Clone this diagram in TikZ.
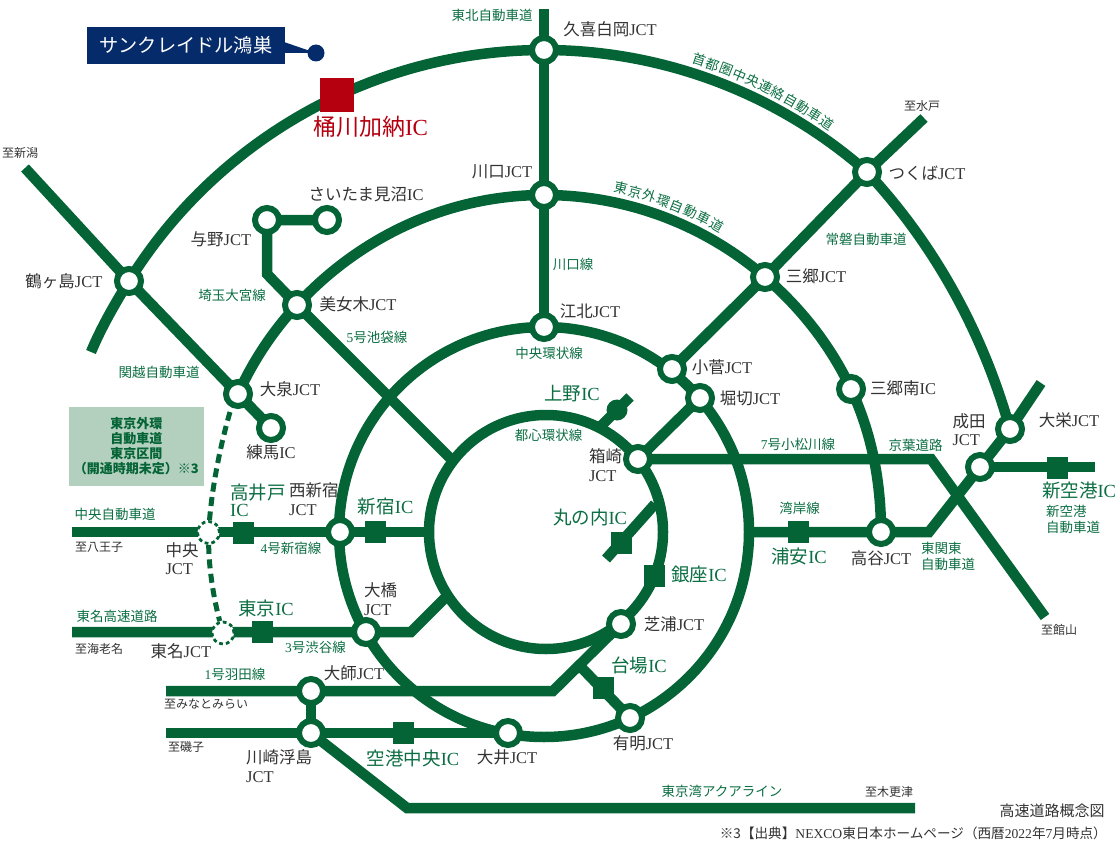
\documentclass[tikz,border=0pt]{standalone}
\usepackage{fontspec}
\setmainfont{Noto Sans CJK JP}
\newfontfamily\latinserif{Liberation Serif}
\usetikzlibrary{calc,decorations.text}
\definecolor{road}{HTML}{056436}
\definecolor{roadtext}{HTML}{0B6E42}
\definecolor{darktext}{HTML}{333333}
\definecolor{navy}{HTML}{062B6B}
\definecolor{redic}{HTML}{B50010}
\definecolor{palegreen}{HTML}{B3D0BF}
\newcommand{\ltn}[1]{{\latinserif #1}}
\newcommand{\JCT}{\ltn{JCT}}
\newcommand{\IC}{\ltn{IC}}
\newcommand{\fsz}[1]{\fontsize{#1}{#1}\selectfont}
\pgfdeclarelayer{bg}
\pgfsetlayers{bg,main}
\tikzset{
  roadline/.style={draw=road,line width=10.5pt,line join=miter},
  plannedline/.style={draw=road,line width=5pt,dash pattern=on 9pt off 5.5pt},
  jct/.style={circle,draw=road,fill=white,line width=6pt,minimum size=24pt,inner sep=0pt},
  ic/.style={rectangle,fill=road,minimum width=21pt,minimum height=21.5pt,inner sep=0pt},
  dashjct/.style={circle,draw=road,fill=white,line width=2.8pt,dash pattern=on 3.8pt off 3pt,minimum size=22pt,inner sep=0pt},
  jlabel/.style={text=darktext,font=\fsz{16.5},inner sep=0pt,align=left},
  iclabel/.style={text=roadtext,font=\fsz{18.5},inner sep=0pt,align=left},
  rlabel/.style={text=roadtext,font=\fsz{13.5},inner sep=0pt,align=left},
  tolabel/.style={text=darktext,font=\fsz{12},inner sep=0pt},
}
\begin{document}
\begin{tikzpicture}[x=1pt,y=-1pt]
\useasboundingbox (0,0) rectangle (1119,848);

% centres of the rings
\coordinate (cring) at (544,532);
\coordinate (cinner) at (546,532);
\coordinate (couter) at (544,538.6);
\coordinate (cgaikan) at (544,533);

% free ends and bends
\coordinate (tohokuend) at (544,9);
\coordinate (niigataend) at (25,168);
\coordinate (outerend) at (91,352);
\coordinate (mitoend) at (924,118);
\coordinate (sakaeend) at (1041,383);
\coordinate (yonobend) at (267,274);
\coordinate (ikebukuroend) at (450,458);
\coordinate (komatsubend) at (931,459);
\coordinate (tateyamaend) at (1045,617);
\coordinate (wanganstart) at (747,532);
\coordinate (wanganbend) at (929,532);
\coordinate (skyend) at (1095,467);
\coordinate (chuoend) at (72,532);
\coordinate (shinjukuend) at (431,532);
\coordinate (tomeiend) at (72,632);
\coordinate (shibuyabend) at (411,632);
\coordinate (shibuyaend) at (446,597);
\coordinate (haneend) at (166,691);
\coordinate (hanebend) at (553,691);
\coordinate (daibabranch) at (579,665);
\coordinate (isogoend) at (166,733);
\coordinate (aquabend) at (407,808);
\coordinate (aquaend) at (915,808);
\coordinate (maruA) at (655,504);
\coordinate (maruB) at (606,559);
\coordinate (uenoA) at (597,430);
\coordinate (uenoB) at (630,397);
\coordinate (dashstart) at (230,412);

% junction nodes
\node[jct] (kuki) at (544,50) {};
\node[jct] (kawaguchi) at (544,195) {};
\node[jct] (kohoku) at (544,327) {};
\node[jct] (tsukuba) at (867,172) {};
\node[jct] (misato) at (765,277) {};
\node[jct] (kosuge) at (672,369) {};
\node[jct] (horikiri) at (700,398) {};
\node[jct] (misatominami) at (851,389) {};
\node[jct] (tsurugashima) at (129,281) {};
\node[jct] (yono) at (267,220) {};
\node[jct] (minuma) at (327,220) {};
\node[jct] (bijogi) at (297,305) {};
\node[jct] (oizumi) at (238,394) {};
\node[jct] (nerima) at (271,428) {};
\node[jct] (hakozaki) at (638,459) {};
\node[jct] (shibaura) at (621,624) {};
\node[jct] (ariake) at (630,718) {};
\node[jct] (oi) at (508,733) {};
\node[jct] (daishi) at (311,691) {};
\node[jct] (ukishima) at (311,733) {};
\node[jct] (koya) at (881,532) {};
\node[jct] (narita) at (980,467) {};
\node[jct] (taiei) at (1010,429) {};
\node[jct] (nishishinjuku) at (340,532) {};
\node[jct] (ohashi) at (366,632) {};
\node[dashjct] (chuojct) at (208.5,532.5) {};
\node[dashjct] (tomeijct) at (223,633) {};

% interchange squares
\node[ic] (takaido) at (243,533) {};
\node[ic] (shinjukuic) at (375,532) {};
\node[ic] (tokyoic) at (262,632) {};
\node[ic] (urayasu) at (798,532) {};
\node[ic] (skyic) at (1057,468) {};
\node[ic] (ginza) at (654,576) {};
\node[ic] (marunouchi) at (621,543) {};
\node[ic] (daiba) at (603,688) {};
\node[ic] (kukochuo) at (403,733) {};
\node[rectangle,fill=redic,minimum width=34pt,minimum height=34pt,inner sep=0pt] (okegawa) at (336.7,95) {};
\node[circle,fill=road,minimum size=21pt,inner sep=0pt] (uenoic) at (617,410) {};

\begin{pgfonlayer}{bg}
% rings
\draw[roadline] (cring) circle[radius=205pt];
\draw[roadline] (cinner) circle[radius=117pt];
% outer ring
\draw[roadline] (outerend) .. controls (100.9,328) and (115.3,303) .. (tsurugashima.center)
  .. controls (217.8,137.9) and (375.6,50) .. (kuki.center)
  .. controls (662.9,50) and (777.8,93.4) .. (tsukuba.center)
  .. controls (935,245) and (983,333) .. (taiei.center);
% gaikan
\draw[roadline] (oizumi.center) .. controls (252.9,361.1) and (272.5,331.5) .. (bijogi.center)
  .. controls (361,235.6) and (449.6,195) .. (kawaguchi.center)
  .. controls (625.1,195) and (703.6,224) .. (misato.center)
  .. controls (801,308.1) and (830.8,345.9) .. (misatominami.center)
  .. controls (872,433.9) and (881,482.4) .. (koya.center);
% radial roads
\draw[roadline] (tohokuend) -- (kuki.center) -- (kawaguchi.center) -- (kohoku.center);
\draw[roadline] (niigataend) -- (tsurugashima.center) -- (oizumi.center) -- (nerima.center);
\draw[roadline] (bijogi.center) -- (ikebukuroend);
\draw[roadline] (minuma.center) -- (yono.center) -- (yonobend) -- (bijogi.center);
\draw[roadline] (mitoend) -- (tsukuba.center) -- (misato.center) -- (kosuge.center);
\draw[roadline] (horikiri.center) -- (hakozaki.center) -- (komatsubend) -- (tateyamaend);
\draw[roadline] (wanganstart) -- (koya.center) -- (wanganbend) -- (narita.center) -- (taiei.center) -- (sakaeend);
\draw[roadline] (narita.center) -- (skyend);
\draw[roadline] (chuoend) -- (shinjukuend);
\draw[roadline] (tomeiend) -- (shibuyabend) -- (shibuyaend);
\draw[roadline] (haneend) -- (hanebend) -- (shibaura.center);
\draw[roadline] (daibabranch) -- (ariake.center);
\draw[roadline] (daishi.center) -- (ukishima.center);
\draw[roadline] (isogoend) -- (oi.center);
\draw[roadline] (ukishima.center) -- (aquabend) -- (aquaend);
\draw[roadline] (maruA) -- (maruB);
\draw[roadline] (uenoA) -- (uenoB);
% planned section
\draw[plannedline] (dashstart) .. controls (219,450) and (212,490) .. (chuojct);
\draw[plannedline] (chuojct) .. controls (209,570) and (214,600) .. (tomeijct);
\end{pgfonlayer}

% property callout
\node[fill=navy,minimum width=197.5pt,minimum height=37pt,inner sep=0pt,text=white,font=\fsz{19.2}] (property) at (185.8,45.5) {サンクレイドル鴻巣};
\node[circle,fill=navy,minimum size=17pt,inner sep=0pt] (propertydot) at (316,53) {};
\fill[navy] (284,42) -- (propertydot.center) -- (284,53) -- cycle;

\node[text=redic,font=\fsz{23},inner sep=0pt] (okegawalabel) at (370.5,127) {桶川加納\IC};

% black labels
\node[jlabel] (l1) at (610,29) {久喜白岡\JCT};
\node[jlabel] (l2) at (502,172) {川口\JCT};
\node[jlabel] (l3) at (366,194) {さいたま見沼\IC};
\node[jlabel] (l4) at (221,239) {与野\JCT};
\node[jlabel] (l5) at (64,281) {鶴ヶ島\JCT};
\node[jlabel] (l6) at (358,304) {美女木\JCT};
\node[jlabel] (l7) at (290,389) {大泉\JCT};
\node[jlabel] (l8) at (590,311) {江北\JCT};
\node[jlabel] (l9) at (927,173) {つくば\JCT};
\node[jlabel] (l10) at (816,276) {三郷\JCT};
\node[jlabel] (l11) at (722,367) {小菅\JCT};
\node[jlabel] (l12) at (750,398) {堀切\JCT};
\node[jlabel] (l13) at (903,388) {三郷南\IC};
\node[jlabel] (l14) at (1069,420) {大栄\JCT};
\node[jlabel] (l15) at (969,429.5) {成田\\[2pt]\JCT};
\node[jlabel] (l16) at (605.5,465) {箱崎\\[2pt]\JCT};
\node[jlabel] (l17) at (881,558) {高谷\JCT};
\node[jlabel] (l18) at (674,624) {芝浦\JCT};
\node[jlabel] (l19) at (643,743) {有明\JCT};
\node[jlabel] (l20) at (507,757) {大井\JCT};
\node[jlabel,anchor=west] (l21) at (246,766) {川崎浮島\\[2pt]\JCT};
\node[jlabel] (l22) at (354,673) {大師\JCT};
\node[jlabel] (l23) at (181,651) {東名\JCT};
\node[jlabel] (l24) at (380.5,599) {大橋\\[2pt]\JCT};
\node[jlabel] (l25) at (182,558.5) {中央\\[2pt]\JCT};
\node[jlabel,anchor=west] (l26) at (289,499) {西新宿\\[2pt]\JCT};
\node[jlabel] (l27) at (271,452) {練馬\IC};

% interchange labels
\node[iclabel,anchor=west] (i1) at (230,500.5) {高井戸\\[-1pt]\IC};
\node[iclabel] (i2) at (385.6,507) {新宿\IC};
\node[iclabel] (i3) at (266,608) {東京\IC};
\node[iclabel] (i4) at (413,758) {空港中央\IC};
\node[iclabel] (i5) at (572,394) {上野\IC};
\node[iclabel] (i6) at (590,517) {丸の内\IC};
\node[iclabel] (i7) at (699,574) {銀座\IC};
\node[iclabel] (i8) at (639,665) {台場\IC};
\node[iclabel] (i9) at (799,556) {浦安\IC};
\node[iclabel] (i10) at (1079,491) {新空港\IC};

% road labels
\node[rlabel] (r1) at (492,15) {東北自動車道};
\node[rlabel] (r2) at (573,264) {川口線};
\node[rlabel] (r3) at (232,295) {埼玉大宮線};
\node[rlabel] (r4) at (377,337) {\ltn{5}号池袋線};
\node[rlabel] (r5) at (159,372) {関越自動車道};
\node[rlabel] (r6) at (549,353) {中央環状線};
\node[rlabel] (r7) at (548.5,435) {都心環状線};
\node[rlabel] (r8) at (866,239) {常磐自動車道};
\node[rlabel] (r9) at (798,444) {\ltn{7}号小松川線};
\node[rlabel] (r10) at (915.5,445) {京葉道路};
\node[rlabel] (r11) at (799.5,508) {湾岸線};
\node[rlabel,anchor=west] (r12) at (921,556.5) {東関東\\[2pt]自動車道};
\node[rlabel,anchor=west] (r13) at (1046,519.5) {新空港\\[2pt]自動車道};
\node[rlabel] (r14) at (115,514) {中央自動車道};
\node[rlabel] (r15) at (291,548) {\ltn{4}号新宿線};
\node[rlabel] (r16) at (117,616) {東名高速道路};
\node[rlabel] (r17) at (315.5,647) {\ltn{3}号渋谷線};
\node[rlabel] (r18) at (235,674) {\ltn{1}号羽田線};
\node[rlabel] (r19) at (722,791) {東京湾アクアライン};

% curved labels
\path[decorate,decoration={text along path,text align={fit to path},
  text={|\fsz{13.5}\color{roadtext}|首都圏中央連絡自動車道}}]
  ($(couter)+(72.8:498pt)$) arc[start angle=72.8,end angle=55,radius=498pt];
\path[decorate,decoration={text along path,text align={fit to path},
  text={|\fsz{13.5}\color{roadtext}|東京外環自動車道}}]
  ($(cgaikan)+(78.5:348pt)$) arc[start angle=78.5,end angle=59.6,radius=348pt];

% destinations
\node[tolabel] (t1) at (20,153) {至新潟};
\node[tolabel] (t2) at (922,106) {至水戸};
\node[tolabel] (t3) at (99,547) {至八王子};
\node[tolabel] (t4) at (99,649) {至海老名};
\node[tolabel] (t5) at (206,704) {至みなとみらい};
\node[tolabel] (t6) at (186,747) {至磯子};
\node[tolabel] (t7) at (1059,630) {至館山};
\node[tolabel] (t8) at (889,792) {至木更津};

% notes
\node[fill=palegreen,minimum width=134.5pt,minimum height=79.5pt,inner sep=0pt,align=center,text=road,font=\bfseries\fsz{13}] (note) at (136.3,446.5)
  {東京外環\\[2pt]自動車道\\[2pt]東京区間\\[2pt]（開通時期未定）※3};
\node[text=darktext,font=\fsz{15},inner sep=0pt] (title) at (1052,811) {高速道路概念図};
\node[text=darktext,font=\fsz{13.6},inner sep=0pt,anchor=east] (source) at (1107,833) {※3【出典】\ltn{NEXCO}東日本ホームページ（西暦\ltn{2022}年\ltn{7}月時点）};
\end{tikzpicture}
\end{document}
